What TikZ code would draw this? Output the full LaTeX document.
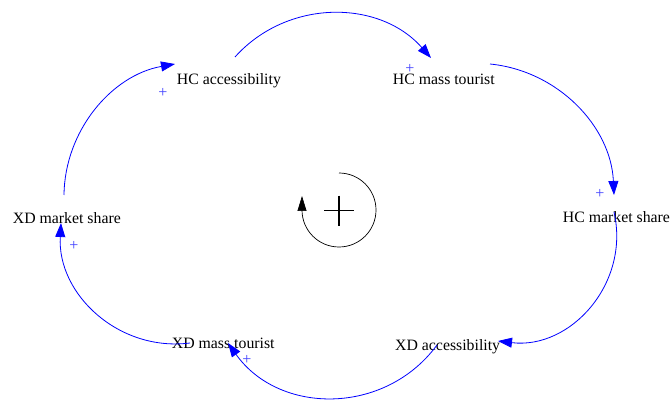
\documentclass[tikz,border=0pt]{standalone}
\usepackage{fontspec}
\setmainfont{Liberation Serif}
\usetikzlibrary{arrows.meta}
\begin{document}
\begin{tikzpicture}[x=1pt,y=-1pt,
  lbl/.style={anchor=base west, inner sep=0pt, font=\fontsize{15.8}{18}\selectfont},
  link/.style={blue, line width=0.8pt, -{Triangle[length=14pt,width=10pt]}},
  pol/.style={text=blue!75, inner sep=0pt, font=\fontsize{16}{18}\selectfont},
  loopline/.style={black, line width=0.7pt, -{Triangle[length=15pt,width=9pt]}},
]
\useasboundingbox (0,0) rectangle (670,401);

% variables
\node[lbl] (hcacc)  at (176.7,85)  {HC accessibility};
\node[lbl] (hcmass) at (392.7,85)  {HC mass tourist};
\node[lbl] (hcms)   at (562.7,222.3) {HC market share};
\node[lbl] (xdacc)  at (395,350)   {XD accessibility};
\node[lbl] (xdmass) at (171.7,348) {XD mass tourist};
\node[lbl] (xdms)   at (12.7,223)  {XD market share};

% connector end points
\coordinate (a1s) at (235,57);  \coordinate (a1e) at (431,58);
\coordinate (a2s) at (490,64);  \coordinate (a2e) at (614,195);
\coordinate (a3s) at (614,212); \coordinate (a3e) at (498,341);
\coordinate (a4s) at (437,345); \coordinate (a4e) at (228,343);
\coordinate (a5s) at (190,343); \coordinate (a5e) at (61,223);
\coordinate (a6s) at (64,195);  \coordinate (a6e) at (175,64);

\draw[link] (a1s) to[bend left=48.4, looseness=1.02] (a1e);
\draw[link] (a2s) to[bend left=40.9, looseness=0.97] (a2e);
\draw[link] (a3s) to[bend left=54.9, looseness=1.08] (a3e);
\draw[link] (a4s) to[bend left=54.2, looseness=1.075] (a4e);
\draw[link] (a5s) to[bend left=50.2, looseness=1.04] (a5e);
\draw[link] (a6s) to[bend left=39.65, looseness=0.96] (a6e);

% polarities
\node[pol] (p1) at (410,68.5) {+};
\node[pol] (p2) at (600,193.5) {+};
\node[pol] (p4) at (247,359.5) {+};
\node[pol] (p5) at (74,245.5) {+};
\node[pol] (p6) at (163,92.5) {+};

% loop symbol
\coordinate (lc) at (339,210);
\draw[loopline] (339,173) arc[start angle=270, end angle=540, radius=37] -- ++(0,-14);
\draw[line width=1.6pt] (324,210.7) -- (354,210.7);
\draw[line width=1.6pt] (339,195.7) -- (339,225.7);
\end{tikzpicture}
\end{document}
